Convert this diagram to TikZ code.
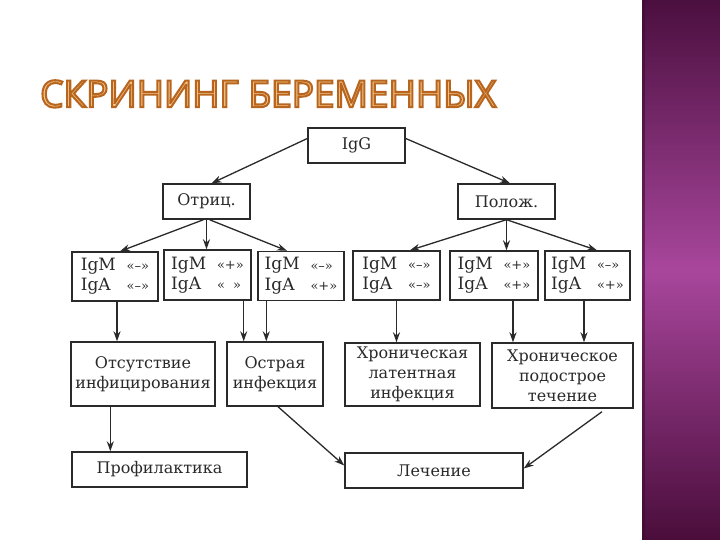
\documentclass[tikz,border=0pt]{standalone}
\usepackage{fontspec}
\setmainfont{DejaVu Serif}
\newfontfamily\titlefont{Open Sans}
\usetikzlibrary{arrows.meta,calc}
\definecolor{ink}{HTML}{2A2A2A}
\definecolor{titlefill}{HTML}{F6C88A}
\definecolor{ptop}{HTML}{4B0F3F}
\definecolor{pmid}{HTML}{A8469C}
\definecolor{pbot}{HTML}{4A0D3B}
\tikzset{
  box/.style={draw=ink, line width=1.4pt, fill=white, text=ink, align=center,
    inner sep=0pt, font=\fontsize{16}{20}\selectfont},
  igbox/.style={box, font=\fontsize{17}{20}\selectfont},
  arr/.style={draw=ink, line width=1.3pt, -{Stealth[length=10pt,width=7pt]}},
}
\newcommand{\igline}[2]{\begin{tabular}{@{}l@{\ \ }l@{}}IgM & {\fontsize{13}{20}\selectfont #1}\\ IgA & {\fontsize{13}{20}\selectfont #2}\end{tabular}}
\newcommand{\outlinetext}[1]{\special{pdf:code 2 Tr 0.55 w 0.72 0.40 0.12 RG}#1\special{pdf:code 0 Tr}}
\begin{document}
\begin{tikzpicture}[x=1pt,y=-1pt]
\useasboundingbox (0,0) rectangle (720,540);
\fill[white] (0,0) rectangle (720,540);
% purple side panel
\shade[top color=ptop, bottom color=pbot, middle color=pmid] (642,0) rectangle (720,540);
\draw[ptop!80!black, line width=3pt, opacity=0.6] (643.5,0) -- (643.5,540);
% title
\node[anchor=north west, inner sep=0pt] (title) at (40,80)
  {\resizebox{456pt}{27pt}{\titlefont\color{titlefill}\outlinetext{СКРИНИНГ БЕРЕМЕННЫХ}}};
% nodes
\node[box, minimum width=97pt, minimum height=35pt] (igg) at (356.5,145.5) {IgG};
\node[box, minimum width=87pt, minimum height=35pt] (otr) at (206.5,201.5) {Отриц.};
\node[box, minimum width=97pt, minimum height=35pt] (pol) at (506.5,201.5) {Полож.};
\node[igbox, minimum width=86pt, minimum height=49pt] (b1) at (115,276.5) {\igline{«–»}{«–»}};
\node[igbox, minimum width=87pt, minimum height=50pt] (b2) at (207.5,275) {\igline{«+»}{«\ \ »}};
\node[igbox, minimum width=86pt, minimum height=49pt] (b3) at (301,276) {\igline{«–»}{«+»}};
\node[igbox, minimum width=87pt, minimum height=49pt] (b4) at (396.5,275.5) {\igline{«–»}{«–»}};
\node[igbox, minimum width=88pt, minimum height=49pt] (b5) at (494,275.5) {\igline{«+»}{«+»}};
\node[igbox, minimum width=85pt, minimum height=49pt] (b6) at (587.5,275.5) {\igline{«–»}{«+»}};
\node[box, minimum width=144pt, minimum height=64pt] (m1) at (143,374) {Отсутствие\\инфицирования};
\node[box, minimum width=96pt, minimum height=64pt] (m2) at (275,374) {Острая\\инфекция};
\node[box, minimum width=135pt, minimum height=63pt] (m3) at (412.5,374.5) {Хроническая\\латентная\\инфекция};
\node[box, minimum width=141pt, minimum height=65pt] (m4) at (562.5,375.5) {Хроническое\\подострое\\течение};
\node[box, minimum width=175pt, minimum height=35pt] (pr) at (159.5,469.5) {Профилактика};
\node[box, minimum width=178pt, minimum height=35pt] (le) at (434,470.5) {Лечение};
% connectors
\draw[arr] ($(igg.west)+(0,-7)$) -- ($(otr.north)+(5,0)$);
\draw[arr] ($(igg.east)+(0,-7)$) -- ($(pol.north)+(3.5,0)$);
\draw[arr] ($(otr.south)+(-3,0)$) -- ($(b1.north)+(5,0)$);
\draw[arr] (otr.south) -- (otr.south |- b2.north);
\draw[arr] ($(otr.south)+(3,0)$) -- ($(b3.north)+(-14,0)$);
\draw[arr] (pol.south) -- ($(b4.north)+(13.5,0)$);
\draw[arr] (pol.south) -- (pol.south |- b5.north);
\draw[arr] (pol.south) -- ($(b6.north)+(9.5,0)$);
\coordinate (s1) at ($(b1.south)+(2,0)$);
\draw[arr] (s1) -- (s1 |- m1.north);
\coordinate (s2) at ($(b2.south east)+(-8,0)$);
\draw[arr] (s2) -- (s2 |- m2.north);
\coordinate (s3) at ($(b3.south west)+(9,0)$);
\draw[arr] (s3) -- (s3 |- m2.north);
\draw[arr] (b4.south) -- (b4.south |- m3.north);
\coordinate (s5) at ($(b5.south)+(19,0)$);
\draw[arr] (s5) -- (s5 |- m4.north);
\coordinate (s6) at ($(b6.south)+(-3.5,0)$);
\draw[arr] (s6) -- (s6 |- m4.north);
\coordinate (s7) at ($(m1.south west)+(40,0)$);
\draw[arr] (s7) -- (s7 |- pr.north);
\draw[arr] ($(m2.south)+(3,0)$) -- ($(le.west)+(0,-5)$);
\draw[arr] ($(m4.south)+(39.5,3)$) -- ($(le.east)+(0,-2)$);
\end{tikzpicture}
\end{document}
